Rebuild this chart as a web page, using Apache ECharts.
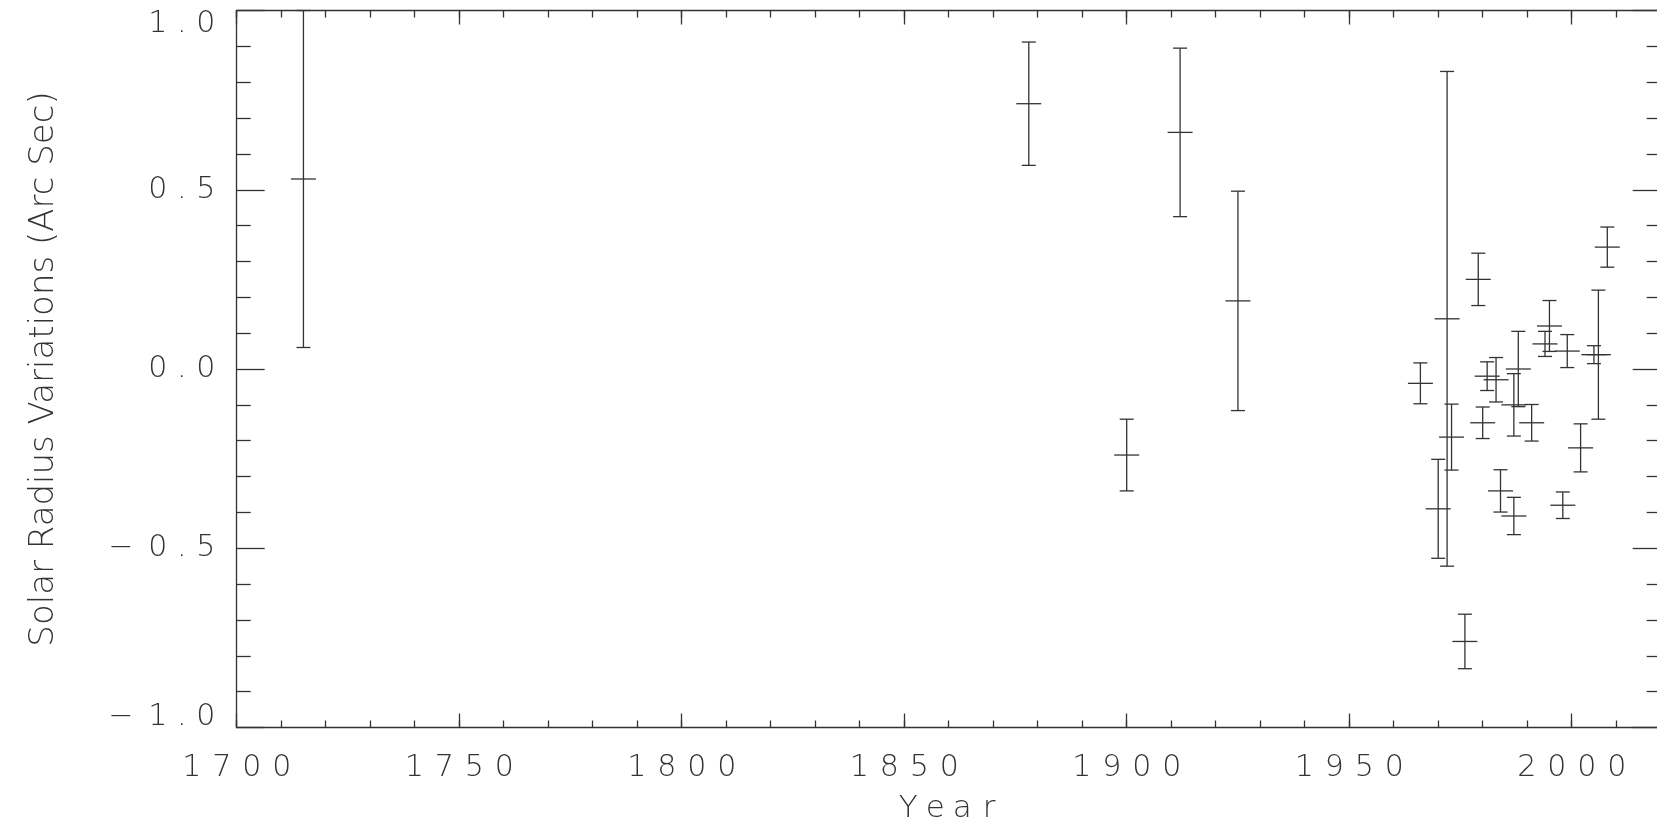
<!DOCTYPE html>
<html>
<head>
<meta charset="utf-8">
<script src="https://cdn.jsdelivr.net/npm/echarts@6/dist/echarts.min.js"></script>
<style>
  html, body { margin: 0; padding: 0; background: #ffffff; }
  #chart { width: 1657px; height: 825px; }
</style>
</head>
<body>
<div id="chart"></div>
<script>
// Observation epochs (year)
const years = [1715, 1878, 1900, 1912, 1925,
  1966, 1970, 1972, 1973, 1976, 1979, 1980, 1981, 1983, 1984,
  1987, 1987, 1988, 1991, 1994, 1995, 1998, 1999, 2002, 2005, 2006, 2008];
// Solar radius offset (arc sec)
const radius = [0.53, 0.74, -0.24, 0.66, 0.19,
  -0.04, -0.39, 0.14, -0.19, -0.76, 0.25, -0.15, -0.02, -0.03, -0.34,
  -0.41, -0.10, 0.00, -0.15, 0.07, 0.12, -0.38, 0.05, -0.22, 0.04, 0.04, 0.34];
// One-sigma uncertainty (arc sec)
const errors = [0.47, 0.172, 0.10, 0.235, 0.306,
  0.057, 0.138, 0.69, 0.092, 0.076, 0.073, 0.044, 0.04, 0.062, 0.059,
  0.052, 0.087, 0.105, 0.051, 0.035, 0.071, 0.037, 0.046, 0.067, 0.025, 0.18, 0.056];

const xTitle = 'Year';
const yTitle = 'Solar Radius Variations (Arc Sec)';

const INK = '#333333';
const FONT = "'DejaVu Sans', sans-serif";

// Character cells: digits, decimal point, minus sign, title letters
const cellWidth = { d: 30, p: 18, m: 44, w: 27 };
// Vertical nudges so the end labels stay inside the axis range
const shifts = { n: [0, 0, 0, 0], t: [27, 0, 0, 0], b: [0, 0, 20, 0] };

const richNums = {};
Object.keys(cellWidth).forEach(function (k) {
  Object.keys(shifts).forEach(function (s) {
    richNums[k + s] = {
      fontFamily: FONT, fontSize: k === 'w' ? 31 : 30, fontWeight: 200, color: INK,
      align: 'center', lineHeight: 24, width: cellWidth[k], padding: shifts[s]
    };
  });
});

// Wide, evenly spaced glyphs for the tick numbers and the x title
function spaced(text, cls, shift) {
  const s = shift || 'n';
  return text.split('').map(function (ch) {
    if (ch === '.') return '{p' + s + '|.}';
    if (ch === '-') return '{m' + s + '|\u2212}';
    return '{' + (cls || 'd') + s + '|' + ch + '}';
  }).join('');
}

const lineStyle = { color: INK, width: 1.3 };

function xAxisDef(pos, step, tickLen, withLabels, withLine) {
  return {
    type: 'value', position: pos, min: 1700, max: 2020, interval: step,
    axisLine: { show: withLine, onZero: false, lineStyle: lineStyle },
    axisTick: { show: true, inside: true, length: tickLen, lineStyle: lineStyle },
    axisLabel: withLabels ? {
      show: true, margin: 29, showMaxLabel: false, rich: richNums,
      formatter: function (v) { return spaced(String(v)); }
    } : { show: false },
    splitLine: { show: false },
    name: withLabels ? spaced(xTitle, 'w') : '',
    nameLocation: 'middle', nameGap: 69,
    nameTextStyle: { rich: richNums }
  };
}

function yAxisDef(pos, withLabels) {
  return {
    type: 'value', position: pos, min: -1, max: 1, interval: 0.5,
    axisLine: { show: true, onZero: false, lineStyle: lineStyle },
    axisTick: { show: true, inside: true, length: 28, lineStyle: lineStyle },
    minorTick: { show: true, splitNumber: 5, length: 14, lineStyle: lineStyle },
    axisLabel: withLabels ? {
      show: true, margin: 16, rich: richNums,
      formatter: function (v) {
        const s = v >= 1 ? 't' : (v <= -1 ? 'b' : 'n');
        return spaced(v.toFixed(1), 'd', s);
      }
    } : { show: false },
    splitLine: { show: false },
    minorSplitLine: { show: false },
    name: withLabels ? yTitle : '',
    nameLocation: 'middle', nameGap: 176, nameRotate: 90,
    nameTextStyle: { fontFamily: FONT, fontSize: 34, fontWeight: 200, color: INK }
  };
}

const points = years.map(function (y, i) { return [y, radius[i], errors[i]]; });

const chart = echarts.init(document.getElementById('chart'), null, { renderer: 'canvas' });
chart.setOption({
  backgroundColor: '#ffffff',
  animation: false,
  grid: {
    left: 236.7, top: 10.5, width: 1424, height: 717,
    containLabel: false, outerBoundsMode: 'none'
  },
  xAxis: [
    xAxisDef('bottom', 50, 14, true, true),
    xAxisDef('bottom', 10, 7, false, false),
    xAxisDef('top', 50, 14, false, true),
    xAxisDef('top', 10, 7, false, false)
  ],
  yAxis: [yAxisDef('left', true), yAxisDef('right', false)],
  series: [{
    type: 'custom',
    xAxisIndex: 0, yAxisIndex: 0,
    data: points,
    renderItem: function (params, api) {
      const x = api.value(0), v = api.value(1), e = api.value(2);
      const c = api.coord([x, v]);
      const hi = api.coord([x, v + e]);
      const lo = api.coord([x, v - e]);
      const cap = 7, bar = 12.5;
      const st = { stroke: INK, lineWidth: 1.3 };
      return {
        type: 'group',
        children: [
          { type: 'line', shape: { x1: c[0], y1: hi[1], x2: c[0], y2: lo[1] }, style: st },
          { type: 'line', shape: { x1: c[0] - cap, y1: hi[1], x2: c[0] + cap, y2: hi[1] }, style: st },
          { type: 'line', shape: { x1: c[0] - cap, y1: lo[1], x2: c[0] + cap, y2: lo[1] }, style: st },
          { type: 'line', shape: { x1: c[0] - bar, y1: c[1], x2: c[0] + bar, y2: c[1] }, style: st }
        ]
      };
    }
  }]
});
</script>
</body>
</html>
